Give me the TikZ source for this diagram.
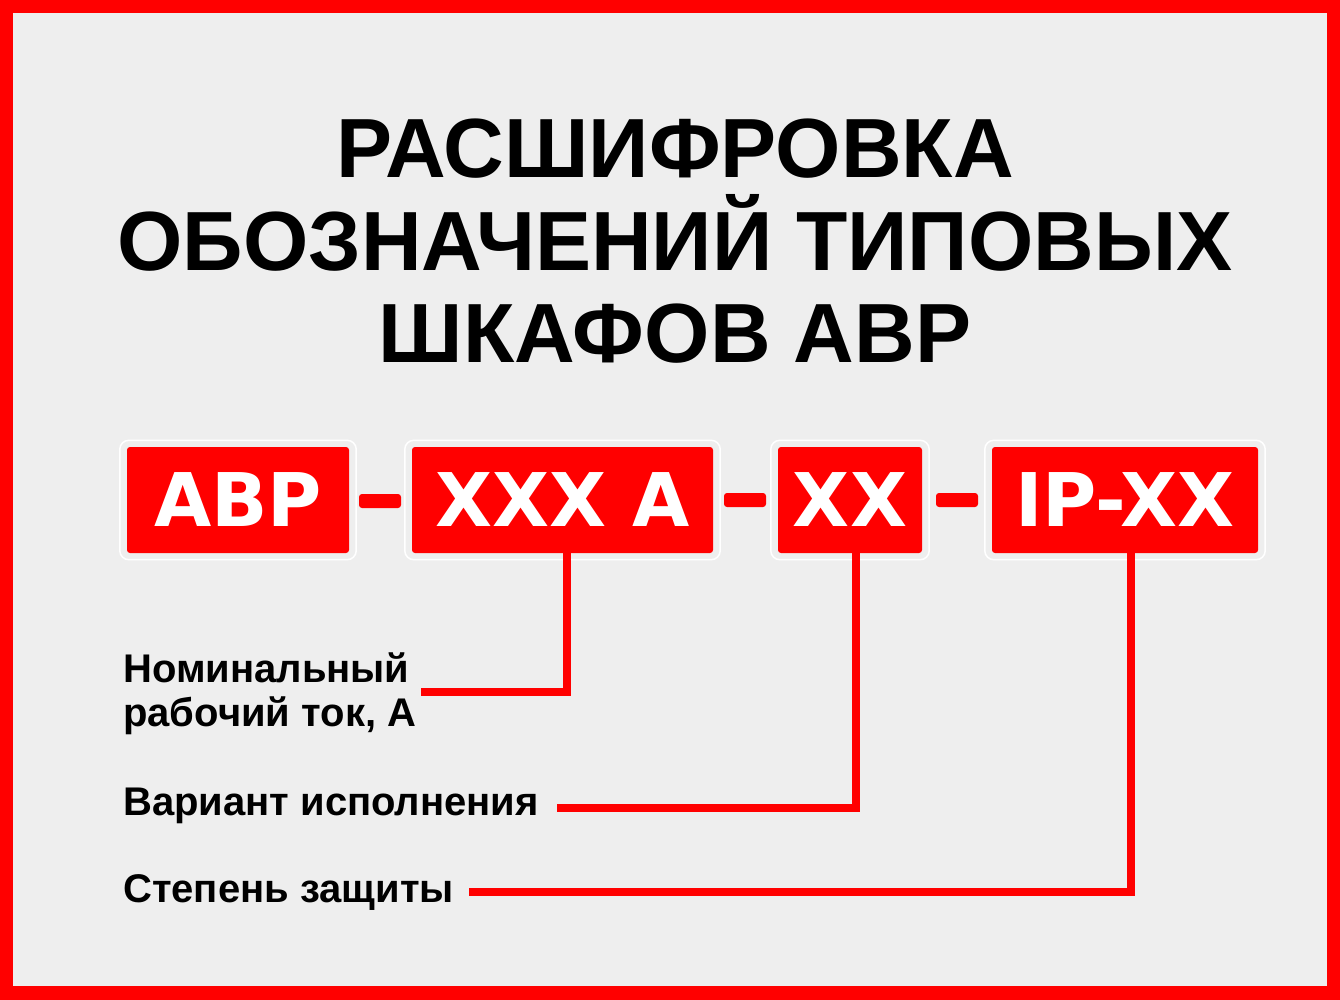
\documentclass[tikz,border=0pt]{standalone}
\usepackage{fontspec}
\setmainfont{Liberation Sans}
\newfontfamily\boxfont{DejaVu Sans}
\definecolor{bg}{HTML}{EEEEEE}
\definecolor{avrred}{HTML}{FF0000}
\tikzset{
  box/.style={rectangle,fill=avrred,rounded corners=3,inner sep=0,minimum height=106,text=white,font=\boxfont\fontsize{74}{80}\selectfont\bfseries},
  link/.style={rectangle,fill=avrred,rounded corners=3,inner sep=0,minimum width=42,minimum height=14},
  halo/.style={draw=white,line width=1.5,rounded corners=9},
  lead/.style={draw=avrred,line width=8},
  lbl/.style={inner sep=0,anchor=base west,align=left,font=\fontsize{40}{44}\selectfont\bfseries},
  ttl/.style={inner sep=0,anchor=base,font=\fontsize{84}{92}\selectfont\bfseries}
}

\begin{document}
\begin{tikzpicture}[x=1pt,y=-1pt]

  \useasboundingbox (0,0) rectangle (1340,1000);
  \fill[avrred] (0,0) rectangle (1340,1000);
  \fill[bg] (13,13) rectangle (1327,986);

  \node[ttl] (title1) at (675,178) {РАСШИФРОВКА};
  \node[ttl] (title2) at (675,270) {ОБОЗНАЧЕНИЙ ТИПОВЫХ};
  \node[ttl] (title3) at (675,362) {ШКАФОВ АВР};

  \node[box,minimum width=222] (avr) at (238,500) {АВР};
  \node[box,minimum width=301] (cur) at (562.5,500) {XXX A};
  \node[box,minimum width=144] (var) at (850,500) {XX};
  \node[box,minimum width=266] (ip) at (1125,500) {IP-XX};
  \foreach \b in {avr,cur,var,ip}
    \draw[halo] ([shift={(-7,-6.5)}]\b.north west) rectangle ([shift={(7,6.5)}]\b.south east);

  \node[link] (d1) at (380,501) {};
  \node[link] (d2) at (745,500) {};
  \node[link] (d3) at (957,500) {};

  \node[lbl,anchor=west] (lab1) at (123,694) {Номинальный\\рабочий ток, А};
  \node[lbl] (lab2) at (123,815) {Вариант исполнения};
  \node[lbl] (lab3) at (123,902) {Степень защиты};

  \draw[lead] ([xshift=4.5pt]cur.south) |- ([xshift=5pt,yshift=2pt]lab1.east);
  \draw[lead] ([xshift=5.5pt]var.south) |- ([xshift=18pt,yshift=-3pt]lab2.east);
  \draw[lead] ([xshift=6pt]ip.south) |- ([xshift=15pt]lab3.east);

\end{tikzpicture}
\end{document}
